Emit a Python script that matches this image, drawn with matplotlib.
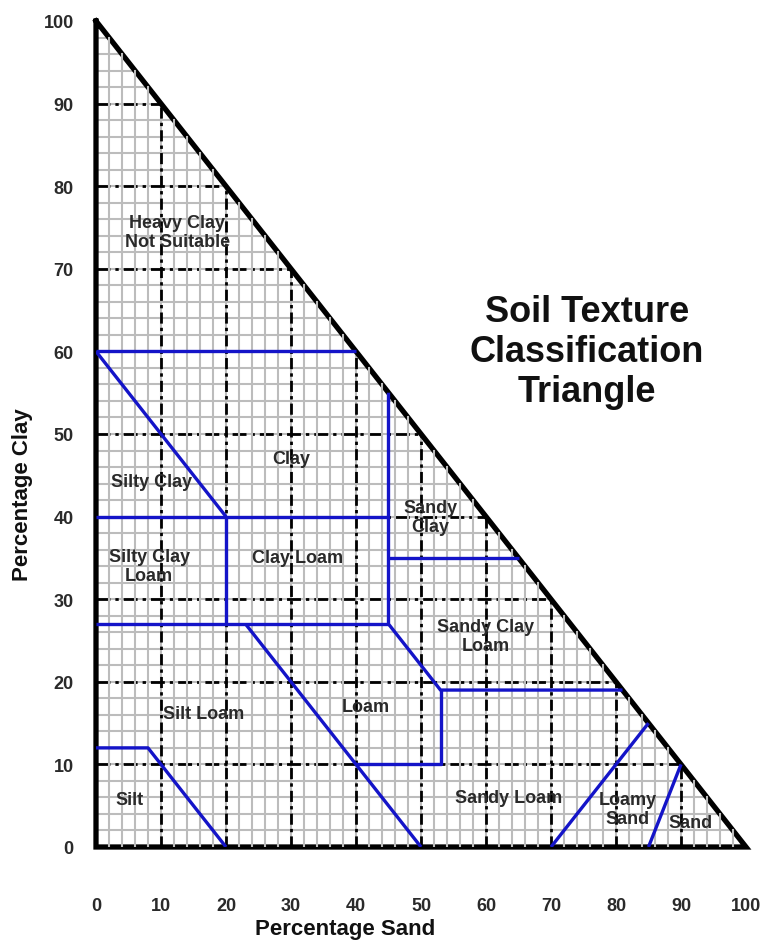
import numpy as np
import matplotlib.pyplot as plt

plt.rcParams['font.family'] = ['Liberation Sans', 'DejaVu Sans']

# Tick values (percent)
ticks = list(range(0, 101, 10))
fine_step = 2

# Class boundaries (sand %, clay %)
boundaries = [
    [(0, 60), (40, 60)],
    [(0, 60), (20, 40)],
    [(0, 40), (45, 40)],
    [(20, 40), (20, 27)],
    [(0, 27), (45, 27)],
    [(45, 55), (45, 27), (53, 19), (81, 19)],
    [(45, 35), (65, 35)],
    [(53, 19), (53, 10), (40, 10)],
    [(23, 27), (50, 0)],
    [(0, 12), (8, 12), (20, 0)],
    [(70, 0), (85, 15)],
    [(85, 0), (90, 10)],
]

# Class labels: (text, sand, clay)
labels = [
    ("Heavy Clay\nNot Suitable", 12.5, 74.5),
    ("Clay", 30, 47),
    ("Silty Clay", 8.5, 44.2),
    ("Sandy\nClay", 51.5, 40),
    ("Silty Clay\nLoam", 8.2, 34),
    ("Clay Loam", 31, 35),
    ("Sandy Clay\nLoam", 60, 25.6),
    ("Silt Loam", 16.5, 16.2),
    ("Loam", 41.5, 17),
    ("Silt", 5.2, 5.8),
    ("Sandy Loam", 63.5, 6),
    ("Loamy\nSand", 81.8, 4.6),
    ("Sand", 91.5, 3),
]

fig = plt.figure(figsize=(7.69, 9.45), dpi=100)
ax = fig.add_axes([96 / 769, 97 / 945, 650 / 769, 826 / 945])
ax.set_xlim(0, 100)
ax.set_ylim(0, 100)
for s in ax.spines.values():
    s.set_visible(False)

grey = '#bcbcbc'
# fine grid inside the triangle
for k in range(fine_step, 100, fine_step):
    ax.plot([k, k], [-0.15, 100 - k], color=grey, lw=1.5, zorder=3 if k % 10 else 1)
    ax.plot([-0.1, 100 - k], [k, k], color=grey, lw=1.5, zorder=1)

# major dash-dot lines every 10 %
for k in ticks[1:-1]:
    ax.plot([k, k], [0, 100 - k], color='black', lw=2.0,
            linestyle=(0, (4, 1.5, 1.2, 1.5)), zorder=2)
    ax.plot([0, 100 - k], [k, k], color='black', lw=2.0,
            linestyle=(0, (5, 1.8, 1.2, 1.8)), zorder=2)

# triangle outline
ax.plot([0, 0, 100, 0], [100, 0, 0, 100], color='black', lw=3.8,
        solid_joinstyle='miter', zorder=2.5, clip_on=False)

# class boundaries
for seg in boundaries:
    xs, ys = zip(*seg)
    ax.plot(xs, ys, color='#1414c8', lw=2.4, zorder=4, solid_capstyle='butt')

for txt, sx, cy in labels:
    ax.text(sx, cy, txt, ha='center', va='center', fontsize=13,
            fontweight='bold', color='#2a2a2a', linespacing=1.15, zorder=5)

ax.text(75.5, 60, "Soil Texture\nClassification\nTriangle", ha='center', va='center',
        fontsize=26, fontweight='bold', color='#111111', linespacing=1.2)

ax.set_xticks(ticks)
ax.set_yticks(ticks)
ax.tick_params(length=0, labelsize=13, labelcolor='#2a2a2a')
ax.tick_params(axis='x', pad=36)
ax.tick_params(axis='y', pad=16)
for lab in ax.get_xticklabels() + ax.get_yticklabels():
    lab.set_fontweight('bold')

fig.text(345 / 769, 1 - 930 / 945, "Percentage Sand", ha='center', va='center',
         fontsize=16, fontweight='bold', color='#111111')
fig.text(23 / 769, 1 - 495 / 945, "Percentage Clay", ha='center', va='center',
         rotation=90, fontsize=16, fontweight='bold', color='#111111')

fig.savefig("out.png", dpi=100)
